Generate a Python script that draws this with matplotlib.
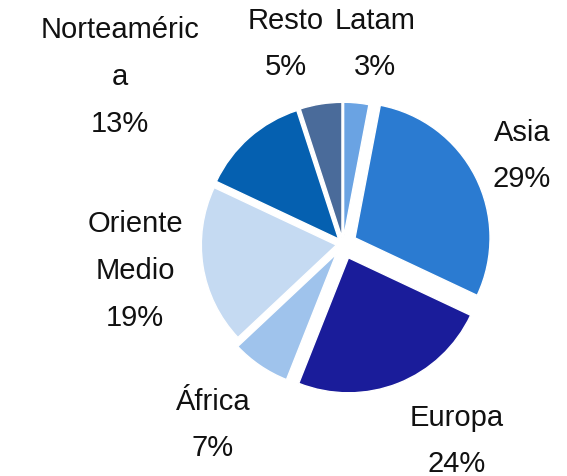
import matplotlib
matplotlib.use("Agg")
import matplotlib.pyplot as plt

labels = ["Latam", "Asia", "Europa", "África", "Oriente\nMedio", "Norteaméric\na", "Resto"]
values = [3, 29, 24, 7, 19, 13, 5]
colors = ["#6aa3e3", "#2b7bd1", "#1a1c9a", "#9fc3ec", "#c5daf2", "#0560b0", "#4a6b9a"]
explode = [0.05, 0.1, 0.11, 0.09, 0.05, 0.05, 0.05]

# label positions in figure pixels (x, y from top) - centre of label block
label_pos = [(375, 44), (522, 156), (457, 441), (213, 425), (135, 271), (120, 77), (286, 44)]

plt.rcParams['font.family'] = ['Liberation Sans', 'DejaVu Sans']
W, H = 567, 477
fig = plt.figure(figsize=(W/100, H/100), dpi=100)
cx, cy, r = 343, 245, 135
half = 1.3 * r
ax = fig.add_axes([(cx - half)/W, (H - cy - half)/H, 2*half/W, 2*half/H])
ax.pie(values, colors=colors, explode=explode, startangle=90, counterclock=False,
       wedgeprops=dict(edgecolor="white", linewidth=1.0))
ax.set_xlim(-1.3, 1.3)
ax.set_ylim(-1.3, 1.3)
ax.set_aspect("equal")
ax.axis("off")

for lab, v, (px, py) in zip(labels, values, label_pos):
    fig.text(px/W, 1 - py/H, f"{lab}\n{v}%", ha="center", va="center",
             fontsize=21, linespacing=1.85, color="#111111")

fig.savefig("out.png", dpi=100)
